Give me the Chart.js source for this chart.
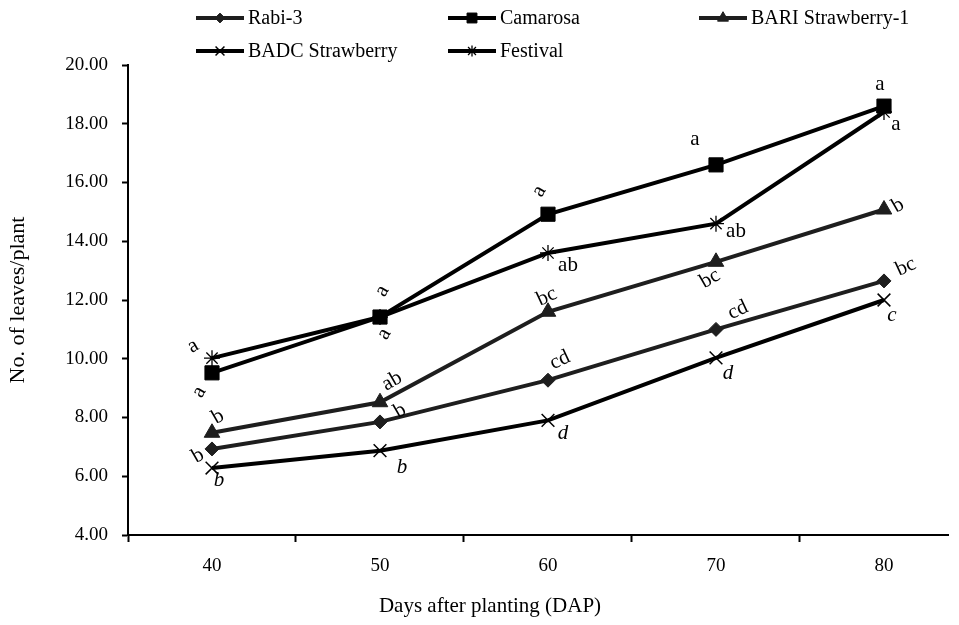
<!DOCTYPE html>
<html lang="en">
<head>
    <meta charset="utf-8">
    <script src="https://cdn.jsdelivr.net/npm/chart.js"></script>
    <title>No. of leaves per plant</title>
    <style>
        body { margin: 0; background: #fff; }
        #wrap { width: 959px; height: 625px; }
    </style>
</head>
<body>

<div id="wrap">
    <canvas id="leafChart" width="959" height="625"></canvas>
</div>

<script>
    // Data
    const days = [40, 50, 60, 70, 80];
    const seriesNames = ['Rabi-3', 'Camarosa', 'BARI Strawberry-1', 'BADC Strawberry', 'Festival'];

    const rabi3     = [6.93, 7.85, 9.27, 11.0, 12.65];
    const camarosa  = [9.52, 11.42, 14.92, 16.6, 18.6];
    const bari1     = [7.48, 8.52, 11.6, 13.3, 15.08];
    const badc      = [6.28, 6.87, 7.9, 10.03, 12.0];
    const festival  = [10.02, 11.42, 13.6, 14.6, 18.4];

    // DMRT letters printed next to each point
    const rabi3Letters    = ['b', 'b', 'cd', 'cd', 'bc'];
    const camarosaLetters = ['a', 'a', 'a', 'a', 'a'];
    const bari1Letters    = ['b', 'ab', 'bc', 'bc', 'b'];
    const badcLetters     = ['b', 'b', 'd', 'd', 'c'];
    const festivalLetters = ['a', 'a', 'ab', 'ab', 'a'];

    const yTicks = [4, 6, 8, 10, 12, 14, 16, 18, 20];
    // x ticks: labelled days plus the category boundaries in between
    const xTicks = [35, 40, 45, 50, 55, 60, 65, 70, 75, 80];

    const FONT = '"Liberation Serif", "Times New Roman", serif';
    Chart.defaults.font.family = FONT;
    Chart.defaults.color = '#000';

    // where each letter sits relative to its point: [dx, dy, rotation deg]
    const letterPlacement = [
        [[-14, 7, -30], [20, -11, -30], [12, -20, -25], [22, -19, -25], [22, -14, -25]],
        [[-13, 19, -60], [2, -26, -60], [-9, -23, -60], [-21, -25, 0], [-4, -22, 0]],
        [[6, -16, -30], [12, -21, -30], [-1, -15, -25], [-6, 17, -30], [14, -4, -30]],
        [[7, 12, 0], [22, 17, 0], [15, 13, 0], [12, 16, 0], [8, 15, 0]],
        [[-19, -12, -30], [4, 17, -60], [20, 12, 0], [20, 8, 0], [12, 12, 0]]
    ];
    const letterSets = [rabi3Letters, camarosaLetters, bari1Letters, badcLetters, festivalLetters];

    const styles = [
        { color: '#1e1e1e', pointStyle: 'rectRot', radius: 7, pointBorderWidth: 1 },
        { color: '#000000', pointStyle: 'rect', radius: 10, pointBorderWidth: 1 },
        { color: '#1e1e1e', pointStyle: 'triangle', radius: 9, pointBorderWidth: 1 },
        { color: '#000000', pointStyle: 'crossRot', radius: 9, pointBorderWidth: 1.5 },
        { color: '#000000', pointStyle: 'star', radius: 8, pointBorderWidth: 1.3 }
    ];

    const seriesValues = [rabi3, camarosa, bari1, badc, festival];

    const datasets = seriesValues.map((values, i) => ({
        label: seriesNames[i],
        data: values.map((v, j) => ({ x: days[j], y: v })),
        borderColor: styles[i].color,
        backgroundColor: styles[i].color,
        borderWidth: 4,
        pointStyle: styles[i].pointStyle,
        pointRadius: styles[i].radius,
        pointBorderWidth: styles[i].pointBorderWidth,
        pointBackgroundColor: styles[i].color,
        pointBorderColor: styles[i].color,
        tension: 0,
        fill: false
    }));

    // letters beside the points
    const letterPlugin = {
        id: 'letterPlugin',
        afterDatasetsDraw(chart) {
            const ctx = chart.ctx;
            ctx.save();
            ctx.fillStyle = '#000';
            ctx.textAlign = 'center';
            ctx.textBaseline = 'middle';
            letterSets.forEach((letters, i) => {
                const meta = chart.getDatasetMeta(i);
                ctx.font = (i === 3 ? 'italic ' : '') + '21px ' + FONT;
                meta.data.forEach((pt, j) => {
                    const [dx, dy, rot] = letterPlacement[i][j];
                    ctx.save();
                    ctx.translate(pt.x + dx, pt.y + dy);
                    ctx.rotate(rot * Math.PI / 180);
                    ctx.fillText(letters[j], 0, 0);
                    ctx.restore();
                });
            });
            ctx.restore();
        }
    };

    // legend in two rows + axis titles
    const decorPlugin = {
        id: 'decorPlugin',
        afterDraw(chart) {
            const ctx = chart.ctx;
            const spots = [[196, 18], [448, 18], [699, 18], [196, 51], [448, 51]];
            ctx.save();
            spots.forEach(([x, y], i) => {
                const st = styles[i];
                ctx.strokeStyle = st.color;
                ctx.fillStyle = st.color;
                ctx.lineWidth = 4;
                ctx.beginPath();
                ctx.moveTo(x, y);
                ctx.lineTo(x + 48, y);
                ctx.stroke();
                ctx.lineWidth = st.pointBorderWidth;
                Chart.helpers.drawPoint(ctx, {
                    pointStyle: st.pointStyle,
                    radius: st.radius * 0.7,
                    borderWidth: st.pointBorderWidth,
                    rotation: 0
                }, x + 24, y);
                ctx.fillStyle = '#000';
                ctx.font = '20px ' + FONT;
                ctx.textAlign = 'left';
                ctx.textBaseline = 'middle';
                ctx.fillText(seriesNames[i], x + 52, y + 1);
            });

            ctx.font = '21px ' + FONT;
            ctx.textAlign = 'center';
            ctx.textBaseline = 'middle';
            ctx.fillText('Days after planting (DAP)', 490, 606);

            ctx.font = '22px ' + FONT;
            ctx.translate(18, 300);
            ctx.rotate(-Math.PI / 2);
            ctx.fillText('No. of leaves/plant', 0, 0);
            ctx.restore();
        }
    };

    const chart = new Chart(document.getElementById('leafChart'), {
        type: 'line',
        data: { datasets: datasets },
        options: {
            responsive: false,
            animation: false,
            layout: { padding: { top: 65, right: 0, left: 0, bottom: 0 } },
            plugins: {
                legend: { display: false },
                tooltip: { enabled: false }
            },
            scales: {
                x: {
                    type: 'linear',
                    min: 35,
                    max: 83.81,   // the axis runs off the right edge of the figure
                    afterBuildTicks: scale => { scale.ticks = xTicks.map(v => ({ value: v })); },
                    grid: {
                        drawOnChartArea: false,
                        drawTicks: true,
                        tickLength: 7,
                        tickWidth: 2,
                        tickColor: c => (c.tick && c.tick.value % 10 === 5) ? '#000' : 'rgba(0,0,0,0)'
                    },
                    border: { color: '#000', width: 2 },
                    ticks: {
                        font: { size: 19 },
                        padding: 13,
                        maxRotation: 0,
                        autoSkip: false,
                        callback: v => (v % 10 === 0 ? String(v) : '')
                    },
                    afterFit: scale => { scale.height = 90; }
                },
                y: {
                    min: 4,
                    max: 20,
                    afterBuildTicks: scale => { scale.ticks = yTicks.map(v => ({ value: v })); },
                    grid: {
                        drawOnChartArea: false,
                        drawTicks: true,
                        tickLength: 6,
                        tickWidth: 2,
                        tickColor: '#000'
                    },
                    border: { color: '#000', width: 2 },
                    ticks: {
                        font: { size: 19 },
                        padding: 14,
                        callback: v => Number(v).toFixed(2)
                    },
                    afterFit: scale => { scale.width = 128; }
                }
            }
        },
        plugins: [letterPlugin, decorPlugin]
    });
</script>

</body>
</html>
